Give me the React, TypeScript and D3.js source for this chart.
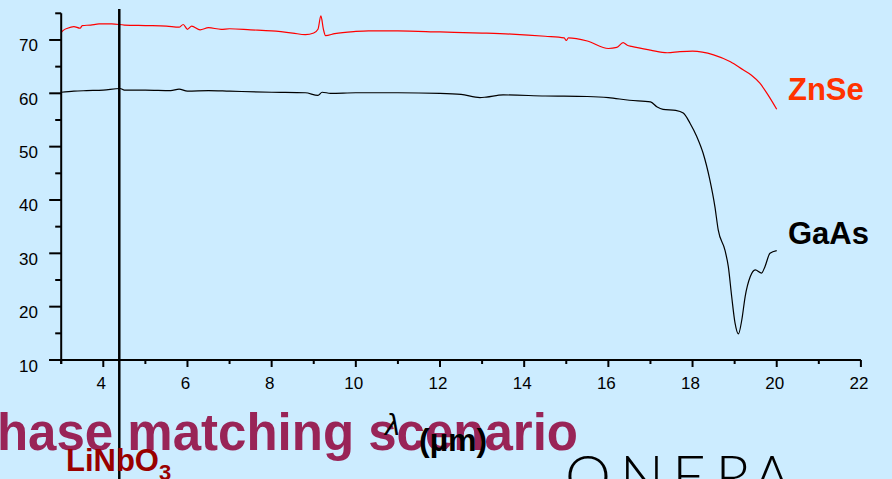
import React from "react";
import * as d3 from "d3";

const W = 892;
const H = 479;

const xMajorTicks = [4, 6, 8, 10, 12, 14, 16, 18, 20, 22];
const xMinorTicks = [3, 5, 7, 9, 11, 13, 15, 17, 19, 21];
const yMajorTicks = [10, 20, 30, 40, 50, 60, 70];
const yMinorTicks = [15, 25, 35, 45, 55, 65, 75];

const znseX = [3.0, 3.05, 3.15, 3.3, 3.45, 3.5, 3.7, 3.9, 4.2, 4.5, 5.0, 5.5, 5.8, 5.9, 6.0, 6.1, 6.3, 6.5, 6.8, 7.0, 7.5, 8.0, 8.5, 8.8, 9.0, 9.1, 9.17, 9.23, 9.28, 9.5, 10.0, 10.3, 11.0, 12.0, 13.0, 13.7, 14.5, 14.95, 15.0, 15.05, 15.5, 16.0, 16.2, 16.35, 16.45, 16.55, 17.0, 17.4, 17.7, 18.0, 18.5, 18.9, 19.2, 19.4, 19.6, 19.8, 20.0];
const znseY = [71.4, 71.8, 72.2, 72.5, 72.2, 72.7, 72.8, 73.0, 73.0, 72.8, 72.7, 72.6, 72.4, 72.9, 72.0, 72.6, 71.9, 72.3, 72.0, 72.1, 71.9, 71.7, 71.3, 71.0, 71.3, 72.0, 74.5, 72.0, 70.8, 71.2, 71.6, 71.7, 71.7, 71.5, 71.3, 71.1, 70.7, 70.4, 69.9, 70.4, 69.8, 68.4, 68.6, 69.5, 69.0, 68.8, 68.1, 67.6, 67.8, 67.9, 67.2, 65.9, 64.4, 63.4, 61.9, 59.6, 57.0];

const gaasX = [3.0, 3.3, 3.6, 4.0, 4.4, 4.5, 5.0, 5.6, 5.8, 6.0, 6.5, 7.0, 8.0, 8.8, 9.1, 9.2, 9.4, 10.0, 11.0, 12.0, 12.5, 12.95, 13.1, 13.5, 14.5, 15.5, 16.0, 16.5, 17.0, 17.15, 17.3, 17.6, 17.78, 17.94, 18.1, 18.25, 18.41, 18.53, 18.61, 18.77, 18.85, 18.93, 19.01, 19.09, 19.17, 19.25, 19.37, 19.49, 19.64, 19.72, 19.84, 20.0];
const gaasY = [60.2, 60.4, 60.5, 60.6, 60.9, 60.6, 60.6, 60.5, 60.8, 60.4, 60.5, 60.4, 60.2, 60.1, 59.6, 60.2, 60.0, 60.1, 60.1, 60.0, 59.8, 59.2, 59.3, 59.7, 59.5, 59.4, 59.2, 58.7, 58.4, 57.5, 57.0, 56.8, 56.3, 54.4, 51.9, 48.8, 43.8, 38.8, 34.4, 30.6, 27.5, 21.9, 16.9, 14.9, 17.5, 21.9, 25.6, 26.9, 26.3, 27.5, 30.0, 30.5];

const markerX = 4.38;

const oneraLetters = ["O", "N", "E", "R", "A"];

const FONT = "Arial, 'Liberation Sans', Helvetica, sans-serif";

export default function App() {
  const x = d3.scaleLinear().domain([3, 22]).range([61.2, 860.9]);
  const y = d3.scaleLinear().domain([10, 75]).range([360, 13.3]);

  const line = d3
    .line<[number, number]>()
    .x((d) => x(d[0]))
    .y((d) => y(d[1]))
    .curve(d3.curveMonotoneX);

  const znse = znseX.map((v, i) => [v, znseY[i]] as [number, number]);
  const gaas = gaasX.map((v, i) => [v, gaasY[i]] as [number, number]);

  const y0 = y(10);
  const x0 = x(3);

  const oneraCenters = [588, 642, 689, 733, 772];

  return (
    <svg
      width={W}
      height={H}
      style={{ position: "absolute", left: 0, top: 0, display: "block" }}
    >
      <rect x={0} y={0} width={W} height={H} fill="#CCECFF" />

      {/* data lines */}
      <path d={line(gaas) || ""} fill="none" stroke="#000000" strokeWidth={1.2} />
      <path d={line(znse) || ""} fill="none" stroke="#FF0000" strokeWidth={1.2} />

      {/* axes */}
      <line x1={x0} x2={x0} y1={y(75)} y2={y0 + 4} stroke="#000" strokeWidth={2} />
      <line x1={x0 - 12} x2={x(22)} y1={y0} y2={y0} stroke="#000" strokeWidth={2} />
      {yMajorTicks.map((t) => (
        <g key={"ym" + t}>
          <line x1={x0 - 12} x2={x0} y1={y(t)} y2={y(t)} stroke="#000" strokeWidth={2} />
          <text
            x={38}
            y={y(t) + 11.5}
            textAnchor="end"
            fontFamily={FONT}
            fontSize={17}
            fill="#000"
          >
            {t}
          </text>
        </g>
      ))}
      {yMinorTicks.map((t) => (
        <line key={"yn" + t} x1={x0 - 6} x2={x0} y1={y(t)} y2={y(t)} stroke="#000" strokeWidth={2} />
      ))}
      {xMajorTicks.map((t) => (
        <g key={"xm" + t}>
          <line x1={x(t)} x2={x(t)} y1={y0} y2={y0 + 7} stroke="#000" strokeWidth={2} />
          <text
            x={x(t) - 2}
            y={388.5}
            textAnchor="middle"
            fontFamily={FONT}
            fontSize={17}
            fill="#000"
          >
            {t}
          </text>
        </g>
      ))}
      {xMinorTicks.map((t) => (
        <line key={"xn" + t} x1={x(t)} x2={x(t)} y1={y0} y2={y0 + 4} stroke="#000" strokeWidth={2} />
      ))}

      {/* vertical marker */}
      <line x1={x(markerX)} x2={x(markerX)} y1={9} y2={H} stroke="#000" strokeWidth={2.5} />

      {/* series labels */}
      <text x={788} y={100} fontFamily={FONT} fontSize={31} fontWeight="bold" fill="#FF3300">
        ZnSe
      </text>
      <text x={788} y={243.5} fontFamily={FONT} fontSize={31} fontWeight="bold" fill="#000">
        GaAs
      </text>

      {/* title overlapping */}
      <text
        x={578}
        y={450}
        textAnchor="end"
        fontFamily={FONT}
        fontSize={51}
        fontWeight="bold"
        fill="#992457"
      >
        phase matching scenario
      </text>

      {/* axis label */}
      <text fontFamily={FONT} fill="#000">
        <tspan x={385} y={435} fontSize={30} fontStyle="italic">
          λ
        </tspan>
        <tspan x={419} y={451} fontSize={32} fontWeight="bold">
          (µm)
        </tspan>
      </text>

      {/* LiNbO3 */}
      <text x={66} y={471} fontFamily={FONT} fontSize={31} fontWeight="bold" fill="#990000">
        LiNbO
        <tspan fontSize={22} dy={9}>
          3
        </tspan>
      </text>

      {/* ONERA */}
      <text
        y={497}
        fontFamily="Lato, 'DejaVu Sans', sans-serif"
        fontWeight={300}
        fontSize={58}
        textAnchor="middle"
        fill="#000"
      >
        {oneraLetters.map((l, i) => (
          <tspan key={l + i} x={oneraCenters[i]}>
            {l}
          </tspan>
        ))}
      </text>
    </svg>
  );
}
